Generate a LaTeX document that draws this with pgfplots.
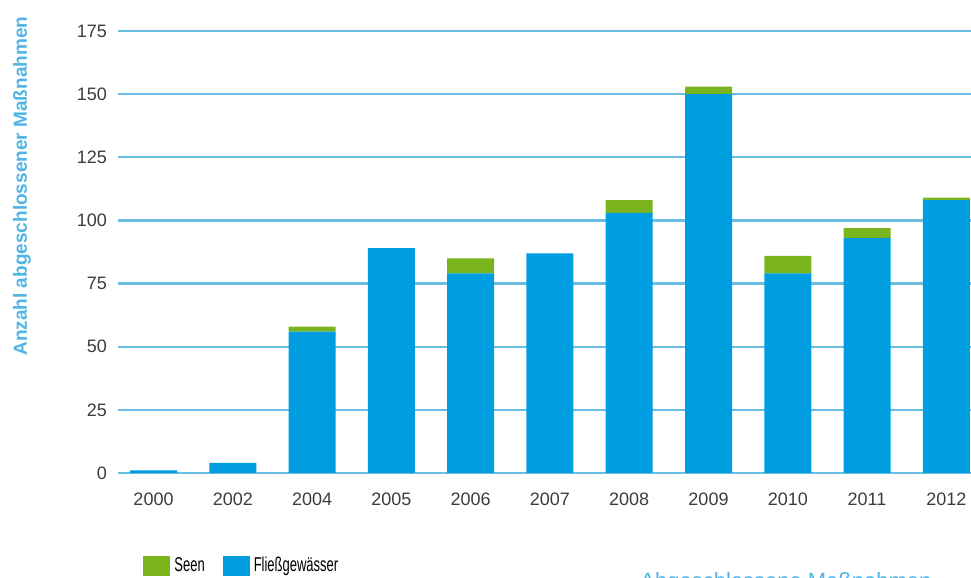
\documentclass[border=0pt]{standalone}
\usepackage{pgfplots}
\pgfplotsset{compat=1.18}
\usepackage{pgfplotstable}
\usepackage{fontspec}
\setmainfont{Liberation Sans}

\definecolor{flussblau}{RGB}{0,158,224}
\definecolor{seegruen}{RGB}{122,181,29}
\definecolor{gitterblau}{RGB}{105,190,225}
\definecolor{textblau}{RGB}{80,180,228}
\definecolor{zahlgrau}{RGB}{60,60,60}

% Jahr-Index, Fliessgewaesser, Seen
\pgfplotstableread{
x  fluss  seen
0  1      0
1  4      0
2  56     2
3  89     0
4  79     6
5  87     0
6  103    5
7  150    3
8  79     7
9  93     4
10 108    1
}\massnahmen

\begin{document}
\begin{tikzpicture}
\begin{axis}[
  at={(59pt,52.5pt)}, anchor=south west,
  scale only axis,
  width=434pt, height=221pt,
  xmin=-0.448, xmax=10.5,
  ymin=0, ymax=175,
  ybar stacked,
  bar width=23.5pt,
  xtick=data,
  xticklabels={2000,2002,2004,2005,2006,2007,2008,2009,2010,2011,2012},
  ytick={0,25,...,175},
  ymajorgrids,
  grid style={line width=1.1pt, gitterblau},
  axis line style={draw=none},
  major tick length=0pt,
  tick label style={font=\fontsize{9}{10}\selectfont, text=zahlgrau},
  /pgf/number format/assume math mode=true,
  xticklabel style={yshift=-6.5pt},
  yticklabel style={xshift=-2pt},
  ylabel={Anzahl abgeschlossener Maßnahmen},
  ylabel style={at={(axis description cs:-0.1106,0.649)}, anchor=center,
    font=\bfseries\fontsize{9.5}{11}\selectfont, text=textblau},
  legend columns=2,
  reverse legend,
  legend style={at={(axis description cs:0.0288,-0.21)}, anchor=west,
    draw=none, fill=none, inner sep=0pt,
    font=\fontsize{10}{11}\selectfont,
    /tikz/every even column/.append style={column sep=7pt}},
  legend image code/.code={\fill[#1,draw=none] (0pt,-5pt) rectangle (13.5pt,5pt);},
]
\addplot[fill=flussblau, draw=none] table[x=x, y=fluss] {\massnahmen};
\addlegendentry{\scalebox{0.65}[1]{Fließgewässer}}
\addplot[fill=seegruen, draw=none] table[x=x, y=seen] {\massnahmen};
\addlegendentry{\scalebox{0.65}[1]{Seen}}
\end{axis}
\node[anchor=north west, inner sep=0pt, text=textblau,
  font=\fontsize{11}{12}\selectfont] at (320pt,3pt) {Abgeschlossene Maßnahmen};
\pgfresetboundingbox
\path[use as bounding box] (0,0) rectangle (485.5pt,289pt);
\end{tikzpicture}
\end{document}
